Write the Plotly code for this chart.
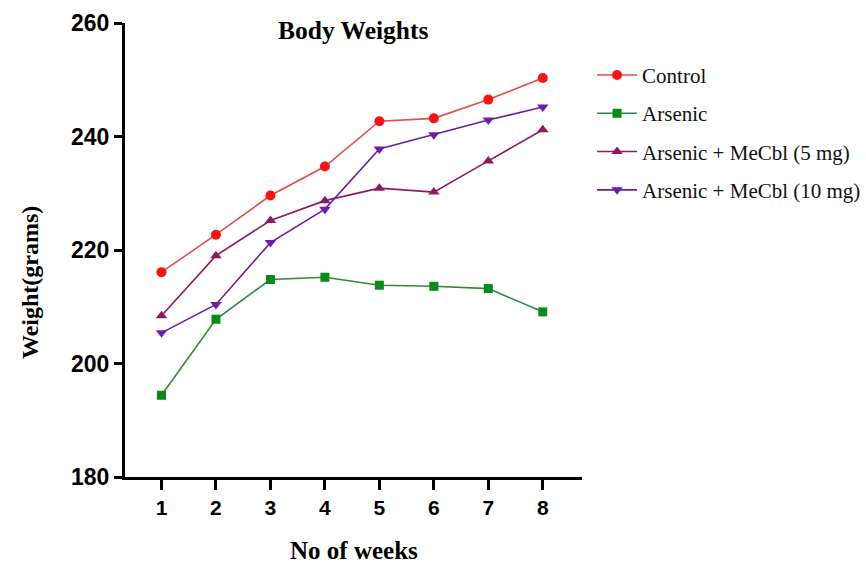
import plotly.graph_objects as go

weeks = [1, 2, 3, 4, 5, 6, 7, 8]
control = [216.1, 222.7, 229.6, 234.7, 242.7, 243.2, 246.5, 250.3]
arsenic = [194.4, 207.8, 214.8, 215.2, 213.8, 213.6, 213.2, 209.1]
mecbl5 = [208.4, 219.0, 225.2, 228.7, 230.9, 230.2, 235.7, 241.2]
mecbl10 = [205.4, 210.4, 221.3, 227.2, 237.8, 240.3, 242.9, 245.2]

series = [
    ("Control", control, "#FF1010", "#E0504A", "circle", 10),
    ("Arsenic", arsenic, "#0A8A1A", "#2E8B3A", "square", 9),
    ("Arsenic + MeCbl (5 mg)", mecbl5, "#8E1A5C", "#8E1A5C", "triangle-up", 10),
    ("Arsenic + MeCbl (10 mg)", mecbl10, "#6B1FA8", "#6B1FA8", "triangle-down", 10),
]

fig = go.Figure()
for i, (name, vals, mcol, lcol, sym, sz) in enumerate(series):
    fig.add_trace(go.Scatter(
        x=weeks, y=vals, mode="lines+markers", name=name,
        legendgroup=f"g{i}",
        line=dict(color=lcol, width=1.6),
        marker=dict(color=mcol, symbol=sym, size=sz),
    ))

serif = "Liberation Serif, Times New Roman, serif"
sans = "Liberation Sans, Arial, sans-serif"

fig.update_layout(
    width=866, height=564,
    margin=dict(l=125, r=284, t=23, b=87, autoexpand=False),
    plot_bgcolor="white", paper_bgcolor="white",
    showlegend=True,
    legend=dict(
        x=1.022, y=0.93, xanchor="left", yanchor="top",
        font=dict(family=serif, size=21, color="#111"),
        tracegroupgap=8, itemwidth=40,
        bgcolor="rgba(0,0,0,0)",
    ),
    xaxis=dict(
        range=[0.33, 8.72], tickvals=weeks, ticktext=[str(w) for w in weeks],
        showline=True, linewidth=3, linecolor="black",
        ticks="outside", ticklen=10, tickwidth=3, tickcolor="black",
        showgrid=False, zeroline=False,
        tickfont=dict(family=sans, size=21, color="black", weight="bold"),
        ticklabelstandoff=0,
    ),
    yaxis=dict(
        range=[180, 260], tickvals=[180, 200, 220, 240, 260],
        showline=True, linewidth=3, linecolor="black",
        ticks="outside", ticklen=8, tickwidth=3, tickcolor="black",
        showgrid=False, zeroline=False,
        tickfont=dict(family=sans, size=23, color="black", weight="bold"),
    ),
    annotations=[
        dict(text="Body Weights", xref="paper", yref="paper", x=0.5, y=(477 - 30) / 454,
             xanchor="center", yanchor="middle", showarrow=False,
             font=dict(family=serif, size=25.5, color="black", weight="bold")),
        dict(text="No of weeks", xref="paper", yref="paper", x=0.5, y=(477 - 550) / 454,
             xanchor="center", yanchor="middle", showarrow=False,
             font=dict(family=serif, size=25, color="black", weight="bold")),
        dict(text="Weight(grams)", xref="paper", yref="paper", x=(30 - 125) / 457, y=(477 - 283) / 454,
             xanchor="center", yanchor="middle", showarrow=False, textangle=-90,
             font=dict(family=serif, size=24, color="black", weight="bold")),
    ],
)

fig.write_html("out.html")
